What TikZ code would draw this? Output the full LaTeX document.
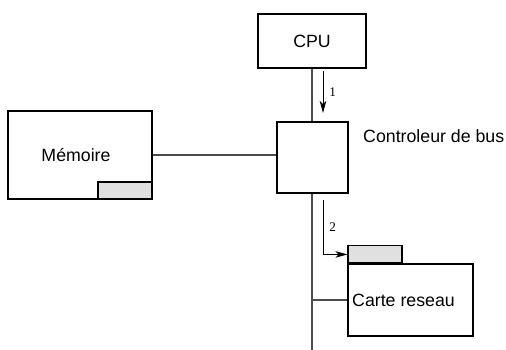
\documentclass[tikz,border=0pt]{standalone}
\usepackage{fontspec}
\setmainfont{Liberation Sans}
\newfontfamily\numfont{Liberation Serif}
\usetikzlibrary{arrows.meta}

\tikzset{
  box/.style={draw=black, line width=0.6pt, inner sep=0pt},
  tab/.style={draw=black, fill=black!12, line width=0.6pt, inner sep=0pt,
    minimum width=1.08cm, minimum height=0.34cm},
  wire/.style={draw=black!70, line width=0.6pt},
  flow/.style={line width=0.5pt, -{Stealth[length=0.24cm,width=0.13cm,inset=0.06cm]}},
  num/.style={font=\numfont\fontsize{7.5}{8}\selectfont}
}

\begin{document}
\begin{tikzpicture}[x=0.02cm,y=0.02cm,font=\fontsize{10.1}{12}\selectfont]
    \useasboundingbox (0,0) rectangle (506,350);

    \node[box, minimum width=2.16cm, minimum height=1.08cm] (cpu) at (312,309) {CPU};
    \node[box, minimum width=1.42cm, minimum height=1.42cm] (ctrl) at (312.5,192.5) {};
    \node[anchor=west] (ctrllbl) at (357,214) {Controleur de bus};

    \node[box, minimum width=2.88cm, minimum height=1.76cm] (mem) at (80,195) {};
    \node (memlbl) at (76,195) {Mémoire};
    \node[tab, anchor=south east] (memtab) at (mem.south east) {};

    \node[box, minimum width=2.5cm, minimum height=1.44cm] (card) at (410.5,50) {};
    \node[anchor=west] (cardlbl) at (346,50) {Carte reseau};
    \node[tab, anchor=south west] (cardtab) at (card.north west) {};

    \coordinate (busend) at (312,0);
    \draw[wire] (cpu.south) -- (cpu.south |- ctrl.north);
    \draw[wire] (mem.east) -- (mem.east -| ctrl.west);
    \draw[wire] (ctrl.south -| busend) -- (busend);
    \draw[wire] (card.west -| busend) -- (card.west);

    % transfers
    \coordinate (a1s) at (323,279);
    \coordinate (a1e) at (323,237);
    \draw[flow] (a1s) -- node[num, right] {1} (a1e);
    \coordinate (a2s) at (323,150);
    \draw[flow] (a2s) |- node[num, right, pos=0.25] {2} (cardtab.west);
\end{tikzpicture}
\end{document}
